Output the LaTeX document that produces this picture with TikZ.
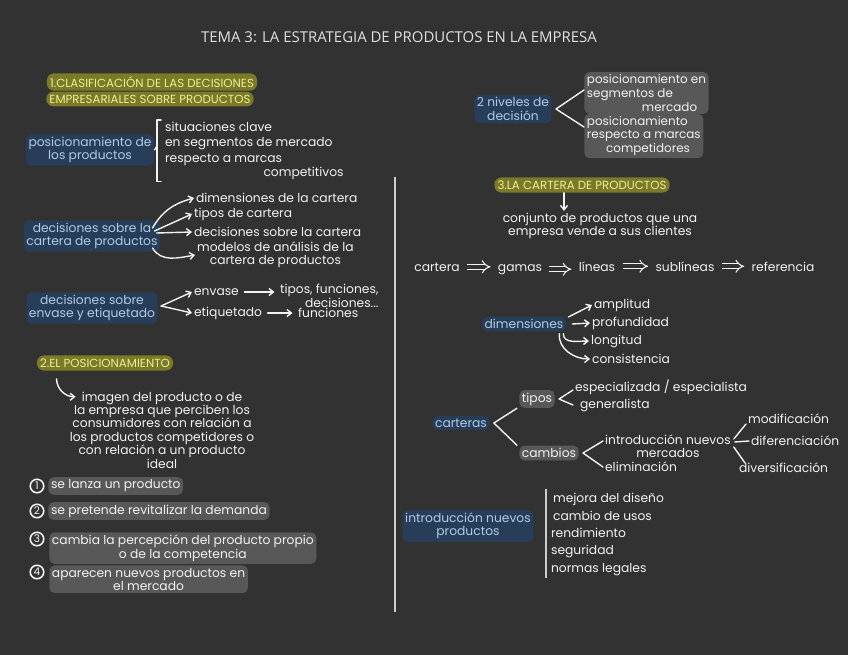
\documentclass[tikz,border=0pt]{standalone}
\usepackage{fontspec}
\setmainfont{Poppins}
\newfontfamily\titulofont{Open Sans}
\usepackage{xcolor}
\definecolor{pizarra}{RGB}{50,50,50}
\definecolor{tiza}{RGB}{242,242,242}
\definecolor{tizagris}{RGB}{205,205,205}
\definecolor{tizatitulo}{RGB}{225,225,225}
\definecolor{marcaamarilla}{RGB}{122,122,40}
\definecolor{textoamarillo}{RGB}{238,238,150}
\definecolor{marcaazul}{RGB}{40,62,88}
\definecolor{textoazul}{RGB}{175,203,232}
\definecolor{marcagris}{RGB}{88,88,88}
\usepackage{tikz}
\usetikzlibrary{arrows.meta, positioning, calc}
\newcommand{\tizatexto}{\fontsize{7}{7.6}\selectfont}
\newcommand{\tizaapretada}{\fontsize{6.8}{5.9}\selectfont}
\newcommand{\tizamayus}{\fontsize{6.7}{7}\selectfont}
\tikzset{
  cabecera/.style={text=tizatitulo, font=\titulofont\fontsize{8.5}{10}\selectfont},
  nota/.style={text=tiza, font=\tizatexto, inner sep=1pt, align=left},
  rotulo/.style={
    rectangle, rounded corners=4pt,
    fill=marcaamarilla, text=textoamarillo,
    inner sep=1.8pt, font=\tizamayus
  },
  concepto/.style={
    rectangle, rounded corners=3pt,
    fill=marcaazul, text=textoazul,
    inner sep=1.5pt, align=center, font=\tizatexto
  },
  resaltado/.style={
    rectangle, rounded corners=3pt,
    fill=marcagris, text=tiza,
    inner sep=1.5pt, align=left, font=\tizatexto
  },
  numero/.style={circle, draw=tiza, line width=0.9pt, text=tiza,
    inner sep=0pt, minimum size=0.27cm, font=\fontsize{6}{6}\selectfont},
  rama/.style={draw=tiza, line width=0.8pt, line cap=round, line join=round},
  flecha/.style={rama, -{Straight Barb[length=2.5pt,width=4pt]}},
  implica/.style={draw=tiza, double=pizarra, double distance=2pt, line width=0.6pt,
    -{Implies}, shorten >=3pt, shorten <=3pt},
  divisor/.style={draw=tizagris, line width=1.1pt},
}

\begin{document}
\begin{tikzpicture}[x=0.02cm, y=-0.02cm]

  % --- Fondo de pizarra ---
  \fill[pizarra] (0,0) rectangle (848,655);

  % --- Título ---
  \node (titulo) [cabecera] at (399,37) {TEMA 3: LA ESTRATEGIA DE PRODUCTOS EN LA EMPRESA};

  % --- 1. Clasificación de las decisiones ---
  \node (clasif1) [rotulo] at (152,82) {1.CLASIFICACIÓN DE LAS DECISIONES};
  \node (clasif2) [rotulo] at (150,99) {EMPRESARIALES SOBRE PRODUCTOS};

  \node (posprod) [concepto] at (90,150) {posicionamiento de\\los productos};
  \node (sitclave) [nota, anchor=west] at (163,127) {situaciones clave};
  \node (segmerc) [nota, anchor=west] at (163,144) {en segmentos de mercado};
  \node (marcas) [nota, anchor=west] at (163,167) {respecto a marcas\\\hspace*{8em}competitivos};
  \coordinate (llave) at (157,146);
  \draw[rama] (llave |- sitclave.north) ++(4,0) -- (llave |- sitclave.north) -- (llave |- marcas.south) -- ++(4,0);
  \draw[rama] (posprod.east) -- (llave);

  \node (decart) [concepto] at (92,236) {decisiones sobre la\\cartera de productos};
  \node (dimcart) [nota, anchor=west] at (194,198) {dimensiones de la cartera};
  \node (tipcart) [nota, anchor=west] at (192,214) {tipos de cartera};
  \node (deccart) [nota, anchor=west] at (192,232) {decisiones sobre la cartera};
  \node (modcart) [nota, anchor=west, align=center] at (195,255) {modelos de análisis de la\\cartera de productos};
  \draw[flecha] ($(decart.east)+(-8,-8)$) to[out=60,in=195] (dimcart.west);
  \draw[flecha] ($(decart.east)+(-6,-5)$) -- (tipcart.west);
  \draw[flecha] ($(decart.east)+(-4,-3)$) -- (deccart.west);
  \draw[flecha] ($(decart.east)+(-8,12)$) to[out=-60,in=190] (modcart.west);

  \node (decenv) [concepto] at (92,308) {decisiones sobre\\envase y etiquetado};
  \node (envase) [nota, anchor=west] at (192,292) {envase};
  \node (tipfun) [nota, anchor=west, align=right] at (278,296) {tipos, funciones,\\decisiones...};
  \node (etiq) [nota, anchor=west] at (192,313) {etiquetado};
  \node (funciones) [nota, anchor=west] at (296,313) {funciones};
  \draw[flecha] ($(decenv.east)+(3,-2)$) -- (envase.west);
  \draw[flecha] ($(decenv.east)+(3,-2)$) -- (etiq.west);
  \draw[flecha, shorten <=2pt, shorten >=2pt] (envase.east) -- (envase.east -| tipfun.west);
  \draw[flecha, shorten <=2pt, shorten >=2pt] (etiq) -- (funciones);

  % --- 2. El posicionamiento ---
  \node (titpos) [rotulo] at (105,363) {2.EL POSICIONAMIENTO};
  \node (imagen) [nota, align=center] at (162,430) {imagen del producto o de\\la empresa que perciben los\\consumidores con relación a\\los productos competidores o\\con relación a un producto\\ideal};
  \draw[flecha] ($(titpos.south west)+(20,8)$) to[out=-90,in=180] ($(imagen.north west)+(8,7)$);

  \node (n1) [numero] at (37,486) {1};
  \node (lanza) [resaltado, right=2pt of n1] {se lanza un producto};
  \node (n2) [numero] at (37,511) {2};
  \node (revit) [resaltado, right=2pt of n2] {se pretende revitalizar la demanda};
  \node (n3) [numero] at (37,539) {3};
  \node (percep) [resaltado, anchor=north west, align=center] at (49,532) {cambia la percepción del producto propio\\o de la competencia};
  \node (n4) [numero] at (37,572) {4};
  \node (nuevos) [resaltado, anchor=north west, align=center] at (49,565) {aparecen nuevos productos en\\el mercado};

  % --- Separación de columnas ---
  \coordinate (divarriba) at (395,177);
  \coordinate (divabajo) at (395,612);
  \draw[divisor] (divarriba) -- (divabajo);

  % --- Niveles de decisión ---
  \node (niveles) [concepto] at (513,109) {2 niveles de\\decisión};
  \node (posseg) [resaltado, font=\tizaapretada, anchor=west] at (584,93) {posicionamiento en\\segmentos de\\\hspace*{4.6em}mercado};
  \node (posmarc) [resaltado, font=\tizaapretada, anchor=west] at (584,136) {posicionamiento\\respecto a marcas\\\hspace*{1.6em}competidores};
  \draw[rama] ($(posseg.west)+(0,-3)$) -- ($(niveles.east)+(4,0)$) -- ($(posmarc.west)+(0,-9)$);

  % --- 3. La cartera de productos ---
  \node (titcart) [rotulo] at (582,185) {3.LA CARTERA DE PRODUCTOS};
  \node (conjunto) [nota, align=center] at (600,226) {conjunto de productos que una\\empresa vende a sus clientes};
  \coordinate (bajada) at ($(titcart.south)+(-18,0)$);
  \draw[flecha] (bajada) -- (bajada |- conjunto.north);

  \node (cartera) [nota, anchor=base] at (437,271) {cartera};
  \node (gamas) [nota, anchor=base] at (520,271) {gamas};
  \node (lineas) [nota, anchor=base] at (597,271) {líneas};
  \node (sublineas) [nota, anchor=base] at (685,271) {sublíneas};
  \node (referencia) [nota, anchor=base] at (783,271) {referencia};
  \foreach \a/\b in {cartera/gamas, gamas/lineas, lineas/sublineas, sublineas/referencia}
    \draw[implica] (\a.east) -- (\a.east -| \b.west);

  \node (dimens) [concepto] at (524,324) {dimensiones};
  \node (amplitud) [nota, anchor=west] at (592,305) {amplitud};
  \node (profund) [nota, anchor=west] at (590,323) {profundidad};
  \node (longitud) [nota, anchor=west] at (589,341) {longitud};
  \node (consist) [nota, anchor=west] at (590,359) {consistencia};
  \draw[flecha] ($(dimens.east)+(2,-7)$) -- (amplitud.west);
  \draw[flecha] ($(dimens.east)+(6,0)$) -- (profund.west);
  \draw[flecha] ($(dimens.south east)+(-3,2)$) to[out=-90,in=180] (longitud.west);
  \draw[flecha] ($(dimens.south east)+(-7,2)$) to[out=-95,in=180] (consist.west);

  \node (carteras) [concepto] at (461,423) {carteras};
  \node (tipos) [resaltado] at (537,399) {tipos};
  \node (cambios) [resaltado] at (549,453) {cambios};
  \draw[rama] ($(tipos.south west)+(-2,0)$) -- ($(carteras.east)+(4,0)$) -- ($(cambios.north west)+(-2,0)$);

  \node (especial) [nota, anchor=west] at (573,387) {especializada / especialista};
  \node (general) [nota, anchor=west] at (578,405) {generalista};
  \draw[rama] ($(especial.west)+(0,3)$) -- ($(tipos.east)+(4,0)$) -- ($(general.west)+(-5,0)$);

  \node (intmerc) [nota, anchor=west, align=center] at (603,446) {introducción nuevos\\mercados};
  \node (elimin) [nota, anchor=west] at (603,467) {eliminación};
  \draw[rama] ($(intmerc.west)+(0,-5)$) -- ($(cambios.east)+(4,0)$) -- (elimin.west);

  \node (modif) [nota, anchor=west] at (746,419) {modificación};
  \node (difer) [nota, anchor=west] at (749,441) {diferenciación};
  \node (divers) [nota, anchor=west] at (737,468) {diversificación};
  \draw[rama] ($(intmerc.east)+(1,-7)$) -- ($(modif.west)+(0,5)$);
  \draw[rama] ($(intmerc.east)+(2,-4)$) -- (difer.west);
  \draw[rama] ($(intmerc.east)+(1,1)$) -- ($(divers.west)+(8,-5)$);

  % --- Introducción de nuevos productos ---
  \node (intprod) [concepto] at (468,526) {introducción nuevos\\productos};
  \node (mejora) [nota, anchor=west] at (551,499) {mejora del diseño};
  \node (cambuso) [nota, anchor=west] at (551,516) {cambio de usos};
  \node (rendim) [nota, anchor=west] at (549,533) {rendimiento};
  \node (segur) [nota, anchor=west] at (549,551) {seguridad};
  \node (normas) [nota, anchor=west] at (549,570) {normas legales};
  \coordinate (barra) at ($(mejora.north west)+(-5,-2)$);
  \draw[divisor] (barra) -- (barra |- normas.south);

\end{tikzpicture}
\end{document}
